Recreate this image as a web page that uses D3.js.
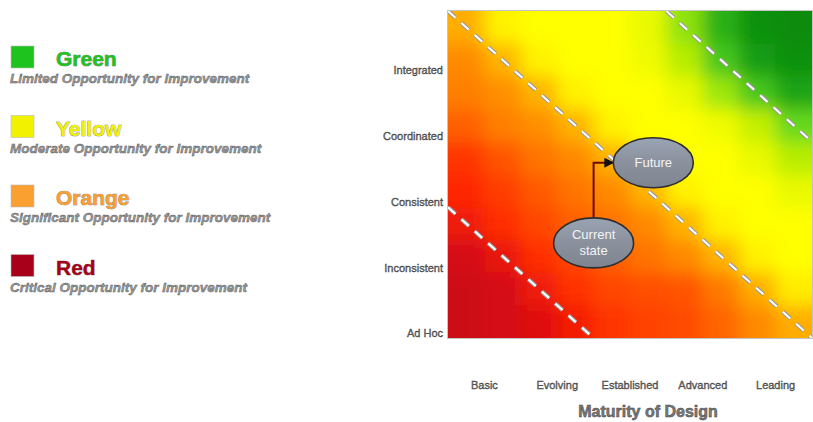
<!DOCTYPE html>
<html>
<head>
<meta charset="utf-8">
<script src="https://cdn.jsdelivr.net/npm/d3@7"></script>
<style>
  html, body { margin: 0; padding: 0; background: #fff; }
  svg { display: block; font-family: "Liberation Sans", Arial, sans-serif; }
</style>
</head>
<body>
<svg id="chart" width="813" height="422"></svg>
<script>
// Axis categories
const maturityLevels = ["Basic", "Evolving", "Established", "Advanced", "Leading"];
const consistencyLevels = ["Ad Hoc", "Inconsistent", "Consistent", "Coordinated", "Integrated"];

// Opportunity score grid (0 = critical, 1 = limited), rows listed top to bottom
const heatRows = [
  [0.47, 0.58, 0.60, 0.60, 0.60, 0.63, 0.72, 0.84, 0.93, 0.95],
  [0.41, 0.48, 0.58, 0.60, 0.60, 0.62, 0.69, 0.79, 0.89, 0.93],
  [0.39, 0.42, 0.48, 0.58, 0.60, 0.60, 0.63, 0.71, 0.79, 0.87],
  [0.33, 0.39, 0.42, 0.48, 0.58, 0.60, 0.60, 0.62, 0.68, 0.75],
  [0.24, 0.31, 0.37, 0.41, 0.48, 0.58, 0.60, 0.60, 0.63, 0.69],
  [0.21, 0.26, 0.32, 0.37, 0.41, 0.48, 0.58, 0.60, 0.60, 0.63],
  [0.17, 0.22, 0.28, 0.33, 0.37, 0.41, 0.48, 0.58, 0.60, 0.60],
  [0.12, 0.16, 0.22, 0.28, 0.33, 0.37, 0.41, 0.48, 0.58, 0.60],
  [0.10, 0.12, 0.17, 0.23, 0.28, 0.30, 0.31, 0.38, 0.47, 0.57],
  [0.10, 0.12, 0.14, 0.18, 0.24, 0.27, 0.29, 0.34, 0.41, 0.47]
];

// Zone boundaries: lines where (maturity + consistency) share of the plot is constant
const zoneBoundaries = [0.4, 1.0, 1.6];

// Current and target positions (fractional category index)
const stateNames = [["Current", "state"], ["Future"]];
const stateMaturity = [1.5, 2.32];
const stateConsistency = [1.37, 2.59];

// Legend
const legendNames = ["Green", "Yellow", "Orange", "Red"];
const legendNotes = [
  "Limited Opportunity for Improvement",
  "Moderate Opportunity for Improvement",
  "Significant Opportunity for Improvement",
  "Critical Opportunity for Improvement"
];
const legendColors = ["#1ec31e", "#f2f200", "#f9a030", "#a8001a"];

const axisTitle = "Maturity of Design";

const svg = d3.select("#chart");
const plot = { left: 448, right: 812, top: 11, bottom: 338 };

const defs = svg.append("defs");
defs.append("clipPath").attr("id", "plotClip")
  .append("rect")
  .attr("x", plot.left).attr("y", plot.top)
  .attr("width", plot.right - plot.left).attr("height", plot.bottom - plot.top);

defs.append("filter").attr("id", "soften")
  .attr("filterUnits", "userSpaceOnUse")
  .attr("x", plot.left - 80).attr("y", plot.top - 80)
  .attr("width", plot.right - plot.left + 160).attr("height", plot.bottom - plot.top + 160)
  .append("feGaussianBlur").attr("stdDeviation", 9);

const grad = defs.append("linearGradient").attr("id", "stateFill")
  .attr("x1", 0).attr("y1", 0).attr("x2", 0).attr("y2", 1);
grad.append("stop").attr("offset", "0%").attr("stop-color", "#9aa4b4");
grad.append("stop").attr("offset", "50%").attr("stop-color", "#8a909c");
grad.append("stop").attr("offset", "100%").attr("stop-color", "#7e8490");

defs.append("marker").attr("id", "arrowHead")
  .attr("viewBox", "0 0 10 10").attr("refX", 9).attr("refY", 5)
  .attr("markerWidth", 10).attr("markerHeight", 10)
  .attr("markerUnits", "userSpaceOnUse").attr("orient", "auto")
  .append("path").attr("d", "M0,0L10,5L0,10Z").attr("fill", "#111");

// Colour ramp from critical red through orange and yellow to green
const colour = d3.scaleLinear()
  .domain([0, 0.12, 0.2, 0.3, 0.4, 0.45, 0.52, 0.6, 0.68, 0.76, 0.88, 1])
  .range(["#a8001a", "#d40a12", "#ff2400", "#ff5000", "#ff8400", "#ffa000", "#ffcc00",
          "#ffff00", "#c4f000", "#58d420", "#14a014", "#007c00"])
  .clamp(true);

// Heat grid scales
const nCols = heatRows[0].length, nRows = heatRows.length;
const gx = d3.scaleBand().domain(d3.range(nCols)).range([plot.left, plot.right]);
const gy = d3.scaleBand().domain(d3.range(nRows)).range([plot.top, plot.bottom]);
const pad = 60;

const cells = [];
heatRows.forEach((row, r) => row.forEach((v, c) => cells.push({ r, c, v })));

const heat = svg.append("g").attr("clip-path", "url(#plotClip)");
heat.append("g").attr("filter", "url(#soften)")
  .selectAll("rect").data(cells).join("rect")
  .attr("x", d => gx(d.c) - (d.c === 0 ? pad : 0))
  .attr("y", d => gy(d.r) - (d.r === 0 ? pad : 0))
  .attr("width", d => gx.bandwidth() + 0.6 + (d.c === 0 ? pad : 0) + (d.c === nCols - 1 ? pad : 0))
  .attr("height", d => gy.bandwidth() + 0.6 + (d.r === 0 ? pad : 0) + (d.r === nRows - 1 ? pad : 0))
  .attr("fill", d => colour(d.v));

// Zone boundary lines (white dashes with a grey rim)
const fx = d3.scaleLinear().domain([0, 1]).range([plot.left, plot.right]);
const fy = d3.scaleLinear().domain([0, 1]).range([plot.bottom, plot.top]);
const boundarySeg = s => {
  const x0 = Math.max(0, s - 1), y0 = s - x0;
  const y1 = Math.max(0, s - 1), x1 = s - y1;
  return [[fx(x0), fy(y0)], [fx(x1), fy(y1)]];
};
const zoneG = heat.append("g");
zoneG.selectAll("path.rim").data(zoneBoundaries).join("path")
  .attr("class", "rim")
  .attr("d", d => d3.line()(boundarySeg(d)))
  .attr("stroke", "#9a9a9a").attr("stroke-width", 4.2)
  .attr("stroke-dasharray", "10,8").attr("fill", "none");
zoneG.selectAll("path.dash").data(zoneBoundaries).join("path")
  .attr("class", "dash")
  .attr("d", d => d3.line()(boundarySeg(d)))
  .attr("stroke", "#ffffff").attr("stroke-width", 2)
  .attr("stroke-dasharray", "10,8").attr("fill", "none");

// Plot frame
svg.append("rect")
  .attr("x", plot.left - 0.5).attr("y", plot.top - 0.5)
  .attr("width", plot.right - plot.left + 1).attr("height", plot.bottom - plot.top + 1)
  .attr("fill", "none").attr("stroke", "#c4c4c4").attr("stroke-width", 1);

// Axes
const x = d3.scaleBand().domain(maturityLevels).range([plot.left, plot.right]);
const y = d3.scalePoint().domain(consistencyLevels).range([333, 70]);

const labelStyle = sel => sel
  .attr("fill", "#6e6e6e").attr("stroke", "#3a3a3a").attr("stroke-width", 0.35)
  .attr("font-size", 11);

const xAxis = svg.append("g").attr("transform", "translate(0,389)")
  .call(d3.axisBottom(x).tickSize(0).tickPadding(0));
xAxis.select(".domain").remove();
xAxis.selectAll("text").attr("dy", 0).call(labelStyle);

const yAxis = svg.append("g").attr("transform", "translate(443,0)")
  .call(d3.axisLeft(y).tickSize(0).tickPadding(0));
yAxis.select(".domain").remove();
yAxis.selectAll("text").attr("dy", "0.35em").call(labelStyle);

svg.append("text")
  .attr("x", (plot.left + plot.right) / 2 + 18).attr("y", 417)
  .attr("text-anchor", "middle").attr("font-size", 16).attr("font-weight", "bold")
  .attr("fill", "#7a7a7a").attr("stroke", "#444").attr("stroke-width", 0.5)
  .text(axisTitle);

// State markers
const sx = d3.scaleLinear().domain([0, maturityLevels.length - 1])
  .range([x(maturityLevels[0]) + x.bandwidth() / 2, x(maturityLevels[4]) + x.bandwidth() / 2]);
const sy = d3.scaleLinear().domain([0, consistencyLevels.length - 1])
  .range([y(consistencyLevels[0]), y(consistencyLevels[4])]);
const rx = 40, ry = 25;

const cur = [sx(stateMaturity[0]), sy(stateConsistency[0])];
const fut = [sx(stateMaturity[1]), sy(stateConsistency[1])];
svg.append("path")
  .attr("d", d3.line()([[cur[0], cur[1] - ry], [cur[0], fut[1]], [fut[0] - rx, fut[1]]]))
  .attr("fill", "none").attr("stroke", "#6a0a0a").attr("stroke-width", 2)
  .attr("marker-end", "url(#arrowHead)");

const states = svg.append("g").selectAll("g")
  .data(stateNames.map((n, i) => ({ n, m: stateMaturity[i], c: stateConsistency[i] })))
  .join("g")
  .attr("transform", d => `translate(${sx(d.m)},${sy(d.c)})`);
states.append("ellipse")
  .attr("rx", rx).attr("ry", ry)
  .attr("fill", "url(#stateFill)").attr("stroke", "#2e2e2e").attr("stroke-width", 1.6);
states.append("text")
  .attr("text-anchor", "middle").attr("font-size", 13).attr("fill", "#f4f4f4")
  .selectAll("tspan").data(d => d.n.map((t, i) => ({ t, i, k: d.n.length })))
  .join("tspan")
  .attr("x", 0)
  .attr("y", d => (d.i - (d.k - 1) / 2) * 16 + 4.5)
  .text(d => d.t);

// Legend
const legend = svg.append("g").selectAll("g")
  .data(legendNames.map((n, i) => ({ n, note: legendNotes[i], col: legendColors[i], i })))
  .join("g")
  .attr("transform", d => `translate(0,${46 + d.i * 69.5})`);
legend.append("rect")
  .attr("x", 11).attr("y", 0).attr("width", 23).attr("height", 22)
  .attr("fill", d => d.col).attr("stroke", "#bbb").attr("stroke-width", 0.6);
legend.append("text")
  .attr("x", 56).attr("y", 20)
  .attr("font-size", 21).attr("font-weight", "bold")
  .attr("fill", d => d.col).attr("stroke", "#6a6a6a").attr("stroke-width", 0.6)
  .attr("paint-order", "stroke")
  .text(d => d.n);
legend.append("text")
  .attr("x", 10).attr("y", 37)
  .attr("font-size", 13.5).attr("font-style", "italic").attr("font-weight", "bold")
  .attr("fill", "#9a9a9a").attr("stroke", "#555").attr("stroke-width", 0.4)
  .text(d => d.note);
</script>
</body>
</html>
